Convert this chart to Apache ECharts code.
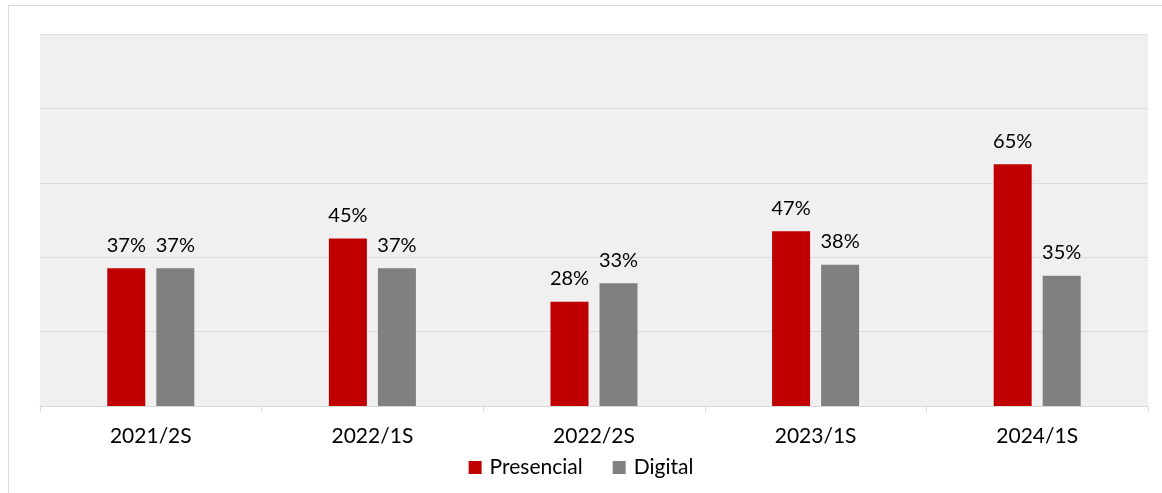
<!DOCTYPE html>
<html>
<head>
<meta charset="utf-8">
<script src="https://cdn.jsdelivr.net/npm/echarts@6/dist/echarts.min.js"></script>
<style>
  html, body { margin: 0; padding: 0; background: #fff; }
  #chart { width: 1162px; height: 493px; }
</style>
</head>
<body>
<div id="chart"></div>
<script>
const categories = ["2021/2S", "2022/1S", "2022/2S", "2023/1S", "2024/1S"];
const presencial = [37, 45, 28, 47, 65];
const digital = [37, 37, 33, 38, 35];

const font = "Lato, Carlito, Calibri, 'Noto Sans', sans-serif";

const myChart = echarts.init(document.getElementById("chart"));
const option = {
  animation: false,
  textStyle: { fontFamily: font },
  // outer frame
  graphic: [
    {
      type: "rect",
      shape: { x: 8.5, y: 5.5, width: 1170, height: 500 },
      style: { fill: "none", stroke: "#d9d9d9", lineWidth: 1 },
      silent: true,
    },
  ],
  grid: {
    left: 40,
    right: 14,
    top: 34,
    bottom: 87,
    show: true,
    backgroundColor: "#f0f0f0",
    borderWidth: 0,
  },
  legend: {
    bottom: 10,
    left: "center",
    itemWidth: 13,
    itemHeight: 13,
    itemGap: 30,
    icon: "rect",
    textStyle: { fontSize: 21, color: "#000", fontFamily: font, padding: [0, 0, 0, 3] },
    data: ["Presencial", "Digital"],
  },
  xAxis: {
    type: "category",
    data: categories,
    axisLine: { lineStyle: { color: "#d9d9d9", width: 1 } },
    axisTick: { show: true, length: 6, interval: 0, lineStyle: { color: "#d9d9d9" } },
    axisLabel: { fontSize: 21, color: "#000", margin: 20, fontFamily: font },
  },
  yAxis: {
    type: "value",
    min: 0,
    max: 100,
    interval: 20,
    axisLabel: { show: false },
    axisLine: { show: false },
    axisTick: { show: false },
    splitLine: { lineStyle: { color: "#dcdcdc", width: 1 } },
  },
  series: [
    {
      name: "Presencial",
      type: "bar",
      data: presencial,
      barWidth: 38,
      barGap: "29%",
      itemStyle: { color: "#c00000" },
      label: {
        show: true,
        position: "top",
        distance: 13,
        formatter: "{c}%",
        fontSize: 20,
        color: "#000",
        fontFamily: font,
      },
    },
    {
      name: "Digital",
      type: "bar",
      data: digital,
      barWidth: 38,
      itemStyle: { color: "#808080" },
      label: {
        show: true,
        position: "top",
        distance: 13,
        formatter: "{c}%",
        fontSize: 20,
        color: "#000",
        fontFamily: font,
      },
    },
  ],
};
myChart.setOption(option);
</script>
</body>
</html>
